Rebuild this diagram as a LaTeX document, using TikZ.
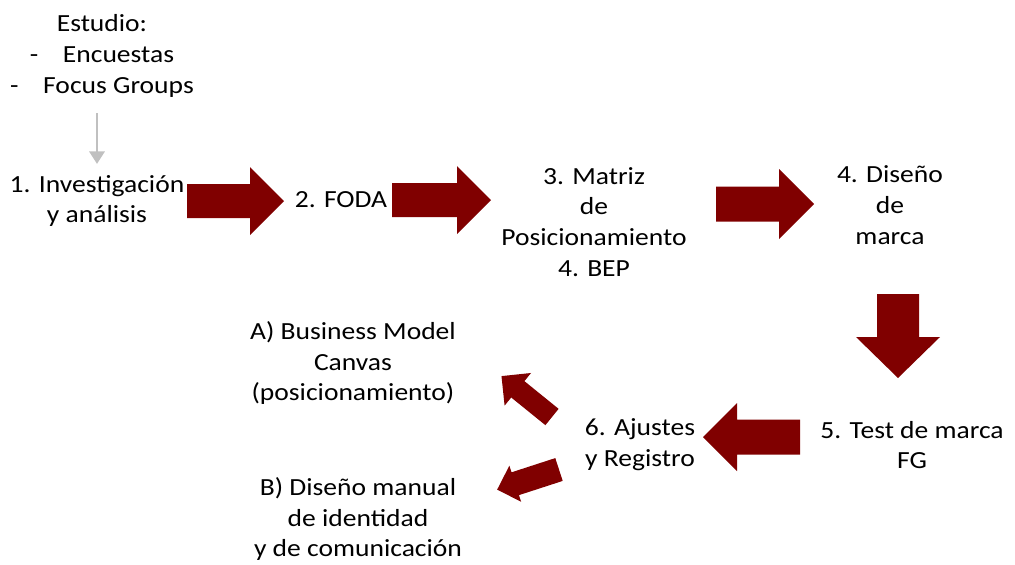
\documentclass[tikz,border=0pt]{standalone}
\usepackage{fontspec}
\setmainfont{Carlito}[FakeStretch=1.12]
\usepackage{tikz}
\usetikzlibrary{arrows.meta}

\definecolor{granate}{RGB}{128,0,0}
\definecolor{grisclaro}{RGB}{192,192,192}

\tikzset{
  texto/.style={align=center, inner sep=0pt, font=\fontsize{28}{35}\selectfont},
  gris/.style={draw=grisclaro, line width=3.4pt, -{Triangle[width=0.6cm,length=0.5cm]}},
  pics/flecha/.style n args={4}{code={
      \fill[granate] (0,-#4) -- ({#1-#2},-#4) -- ({#1-#2},-#3) -- (#1,0)
        -- ({#1-#2},#3) -- ({#1-#2},#4) -- (0,#4) -- cycle;}},
}

\begin{document}
\begin{tikzpicture}
        \useasboundingbox (0,0) rectangle (40.6,-22.56);

        % textos
        \node[texto] (estudio) at (4.08,-2.24) {Estudio:\\-\hspace{1em}Encuestas\\-\hspace{1em}Focus Groups};
        \node[texto] (inv) at (3.88,-8.04) {1. Investigación\\y análisis};
        \node[texto] (foda) at (13.64,-8.0) {2. FODA};
        \node[texto] (matriz) at (23.76,-8.88) {3. Matriz\\de\\Posicionamiento\\4. BEP};
        \node[texto] (diseno) at (35.6,-8.2) {4. Diseño\\de\\marca};
        \node[texto] (test) at (36.48,-17.8) {5. Test de marca\\FG};
        \node[texto] (ajustes) at (25.6,-17.8) {6. Ajustes\\y Registro};
        \node[texto] (canvas) at (14.12,-14.52) {A) Business Model\\Canvas\\(posicionamiento)};
        \node[texto] (manual) at (14.32,-20.76) {B) Diseño manual\\de identidad\\y de comunicación};

        \draw[gris, shorten <=0.64cm, shorten >=0.44cm] (inv.north |- estudio.south) -- (inv.north);

        % flechas gruesas
        \pic at (7.48,-8.04) {flecha={3.88}{1.36}{1.36}{0.68}};
        \pic at (15.68,-8.0) {flecha={3.96}{1.36}{1.36}{0.68}};
        \pic at (28.64,-8.16) {flecha={3.92}{1.4}{1.4}{0.7}};
        \pic[rotate=-90] at (35.92,-11.76) {flecha={3.36}{1.64}{1.68}{0.84}};
        \pic[rotate=180] at (32.0,-17.48) {flecha={3.88}{1.36}{1.36}{0.7}};
        \pic[rotate=141] at (22.08,-16.68) {flecha={2.6}{0.84}{0.84}{0.42}};
        \pic[rotate=198] at (22.36,-18.78) {flecha={2.6}{0.76}{0.76}{0.48}};
\end{tikzpicture}
\end{document}
